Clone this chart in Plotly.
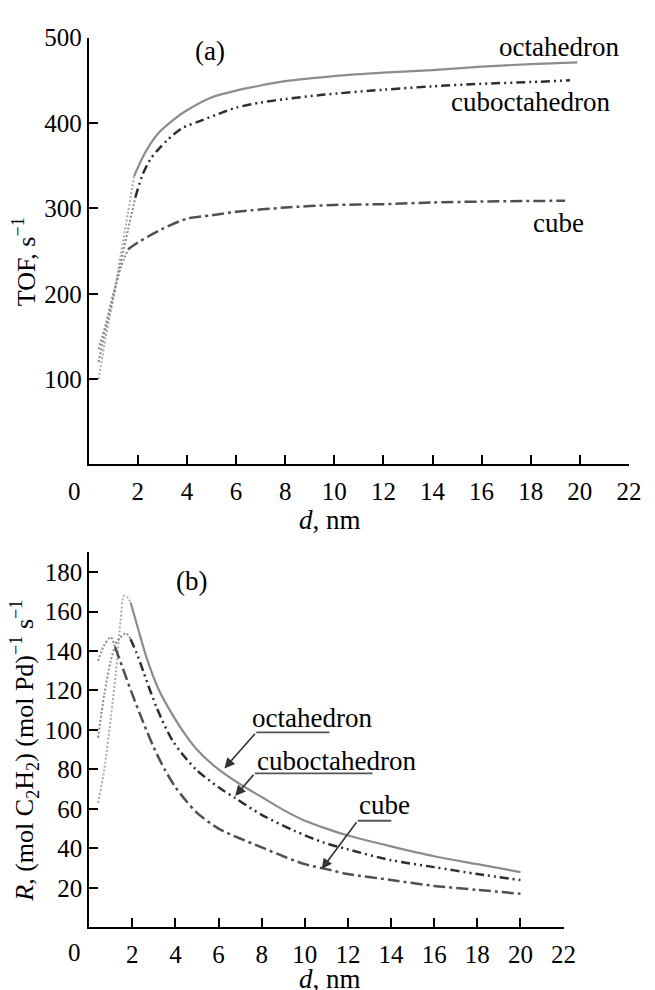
import plotly.graph_objects as go

# ---------------- Data (a): TOF vs d ----------------
oct_a_ext_d = [0.4, 0.7, 1.0, 1.3, 1.6, 1.85]
oct_a_ext_y = [100, 150, 195, 245, 295, 338]
oct_a_d = [1.85, 2.2, 2.5, 2.9, 3.5, 4.0, 5.0, 6.0, 7.0, 8.0, 10.0, 12.0, 14.0, 16.0, 18.0, 19.9]
oct_a_y = [338, 360, 375, 390, 405, 415, 430, 438, 444, 449, 455, 459, 462, 466, 469, 471]

cub_a_ext_d = [0.4, 0.7, 1.0, 1.3, 1.6, 1.9]
cub_a_ext_y = [120, 160, 195, 235, 275, 313]
cub_a_d = [1.9, 2.2, 2.5, 2.8, 3.2, 3.8, 4.5, 5.5, 6.0, 7.0, 8.0, 9.5, 12.0, 14.0, 16.0, 18.0, 19.6]
cub_a_y = [313, 340, 357, 368, 380, 394, 402, 413, 418, 424, 428, 433, 439, 443, 446, 448, 450]

cube_a_ext_d = [0.4, 0.7, 1.0, 1.3, 1.6]
cube_a_ext_y = [135, 165, 200, 230, 252]
cube_a_d = [1.6, 2.0, 3.0, 4.0, 5.0, 6.0, 8.0, 10.0, 12.0, 14.0, 16.0, 19.4]
cube_a_y = [252, 260, 276, 288, 292, 296, 301, 304, 305, 307, 308, 309]

# ---------------- Data (b): R vs d ----------------
oct_b_ext_d = [0.41, 0.7, 1.0, 1.25, 1.45, 1.62, 1.8, 1.92]
oct_b_ext_y = [63, 80, 106, 130, 155, 168, 167, 164.6]
oct_b_d = [1.92, 2.3, 2.68, 3.2, 3.9, 4.5, 5.0, 6.0, 7.0, 8.0, 9.0, 10.0, 11.0, 12.0, 14.0, 16.0, 18.0, 20.0]
oct_b_y = [164.6, 150, 136, 121, 107, 97, 90, 80, 72.5, 66, 59.5, 54, 50, 46.5, 41, 36, 32, 28]

cub_b_ext_d = [0.41, 0.7, 1.0, 1.3, 1.7, 1.92]
cub_b_ext_y = [96, 118, 135, 145, 149, 146]
cub_b_d = [1.92, 2.2, 2.53, 3.14, 3.9, 4.95, 6.0, 6.77, 8.0, 9.5, 10.86, 12.0, 14.0, 16.0, 18.0, 20.0]
cub_b_y = [146, 139, 129, 111, 94, 80, 71, 65.5, 57, 49, 43, 39.5, 34, 30.5, 27, 24]

cube_b_ext_d = [0.41, 0.7, 1.0, 1.2]
cube_b_ext_y = [135, 143, 147, 142]
cube_b_d = [1.2, 1.6, 2.0, 2.5, 3.0, 3.5, 4.0, 4.5, 5.0, 6.0, 7.0, 8.0, 9.0, 10.0, 11.0, 12.0, 14.0, 16.0, 18.0, 20.0]
cube_b_y = [142, 130, 118, 104, 91, 80, 71, 64, 58, 50, 45, 40.5, 36, 32, 29.5, 27, 24, 21, 19, 17]

x_ticks = [2, 4, 6, 8, 10, 12, 14, 16, 18, 20, 22]
ya_ticks = [100, 200, 300, 400, 500]
yb_ticks = [20, 40, 60, 80, 100, 120, 140, 160, 180]

FONT = "'Liberation Serif', 'Times New Roman', Times, 'DejaVu Serif', serif"
W, H = 655, 990

OCT_C = "#8c8c8c"
CUB_C = "#2e2e2e"
CUBE_C = "#505050"
DASHDOTDOT = "9px,4px,2px,4px,2px,4px"
DASHDOT = "12px,4px,3px,4px"
DOT = "2px,2px"

fig = go.Figure()

def add(xs, ys, color, dash, width, xa, ya):
    fig.add_trace(go.Scatter(x=xs, y=ys, mode="lines", xaxis=xa, yaxis=ya,
                             line=dict(color=color, dash=dash, width=width,
                                       shape="spline", smoothing=0.8),
                             showlegend=False, hoverinfo="skip"))

# panel (a)
add(oct_a_ext_d, oct_a_ext_y, "#ababab", DOT, 2, "x", "y")
add(cub_a_ext_d, cub_a_ext_y, "#8a8a8a", DOT, 2, "x", "y")
add(cube_a_ext_d, cube_a_ext_y, "#8a8a8a", DOT, 2, "x", "y")
add(oct_a_d, oct_a_y, OCT_C, "solid", 2.2, "x", "y")
add(cub_a_d, cub_a_y, CUB_C, DASHDOTDOT, 2.5, "x", "y")
add(cube_a_d, cube_a_y, CUBE_C, DASHDOT, 2.5, "x", "y")

# panel (b)
add(oct_b_ext_d, oct_b_ext_y, "#ababab", DOT, 2, "x2", "y2")
add(cub_b_ext_d, cub_b_ext_y, "#8a8a8a", DOT, 2, "x2", "y2")
add(cube_b_ext_d, cube_b_ext_y, "#8a8a8a", DOT, 2, "x2", "y2")
add(oct_b_d, oct_b_y, OCT_C, "solid", 2.2, "x2", "y2")
add(cub_b_d, cub_b_y, CUB_C, DASHDOTDOT, 2.5, "x2", "y2")
add(cube_b_d, cube_b_y, CUBE_C, DASHDOT, 2.5, "x2", "y2")

axis_common = dict(showgrid=False, zeroline=False, showline=True, linecolor="black",
                   linewidth=2, ticks="inside", ticklen=9, tickwidth=2, tickcolor="black",
                   tickfont=dict(family=FONT, size=25, color="black"))

fig.update_layout(
    width=W, height=H,
    margin=dict(l=0, r=0, t=0, b=0),
    paper_bgcolor="white", plot_bgcolor="white",
    font=dict(family=FONT, color="black"),
    xaxis=dict(domain=[90.5 / W, 641.7 / W], range=[0, 22], anchor="y", ticklabelstandoff=4,
               tickvals=[0] + x_ticks, ticktext=[""] + [str(v) for v in x_ticks], **axis_common),
    yaxis=dict(domain=[1 - 457.5 / H, 1 - 25 / H], range=[0, 500], anchor="x",
               tickvals=ya_ticks, **axis_common),
    xaxis2=dict(domain=[91 / W, 575 / W], range=[0, 22], anchor="y2", ticklabelstandoff=4,
                tickvals=[0] + x_ticks, ticktext=[""] + [str(v) for v in x_ticks], **axis_common),
    yaxis2=dict(domain=[1 - 926.5 / H, 1 - 546.5 / H], range=[0, 190], anchor="x2",
                tickvals=yb_ticks, **axis_common),
)

def ptxt(text, px, py, size=26, angle=0, xanchor="center"):
    fig.add_annotation(text=text, x=px / W, y=1 - py / H, xref="paper", yref="paper",
                       showarrow=False, textangle=angle, xanchor=xanchor, yanchor="middle",
                       font=dict(family=FONT, size=size, color="black"))

def dtxt(text, x, y, xa, ya, size=27, xanchor="left"):
    fig.add_annotation(text=text, x=x, y=y, xref=xa, yref=ya, showarrow=False,
                       xanchor=xanchor, yanchor="middle",
                       font=dict(family=FONT, size=size, color="black"))

# axis titles
ptxt("TOF, s<sup>−1</sup>", 25, 252, size=26, angle=-90)
ptxt("<i>R</i>, (mol C<sub>2</sub>H<sub>2</sub>) (mol Pd)<sup>−1</sup> s<sup>−1</sup>", 25, 748, size=26, angle=-90)
ptxt("<i>d</i>, nm", 337, 514, size=27)
ptxt("<i>d</i>, nm", 337, 979, size=27)
ptxt("0", 76, 485, size=25)
ptxt("0", 76, 952, size=25)

# panel labels
dtxt("(a)", 4.93, 484, "x", "y", xanchor="center")
dtxt("(b)", 4.73, 175.5, "x2", "y2", xanchor="center")

# curve labels (a)
dtxt("octahedron", 16.61, 489.6, "x", "y")
dtxt("cuboctahedron", 14.66, 424.6, "x", "y")
dtxt("cube", 18.01, 283, "x", "y")

# curve labels (b)
dtxt("octahedron", 7.45, 106, "x2", "y2")
dtxt("cuboctahedron", 7.68, 84.25, "x2", "y2")
dtxt("cube", 12.41, 61.75, "x2", "y2")

# leader lines and arrows (b)
leaders = [
    ((7.75, 98.8), (11.14, 98.8), (6.27, 80.5)),
    ((7.68, 78.0), (13.14, 78.0), (6.77, 66.5)),
    ((12.45, 54.0), (14.01, 54.0), (10.78, 29.5)),
]
for (x0, y0), (x1, y1), (hx, hy) in leaders:
    fig.add_shape(type="line", x0=x0, y0=y0, x1=x1, y1=y1, xref="x2", yref="y2",
                  line=dict(color="#555555", width=1.8))
    fig.add_annotation(x=hx, y=hy, ax=x0, ay=y0, xref="x2", yref="y2", axref="x2", ayref="y2",
                       text="", showarrow=True, arrowhead=2, arrowsize=1.3, arrowwidth=1.6,
                       arrowcolor="#333333")

fig.write_html("out.html")
